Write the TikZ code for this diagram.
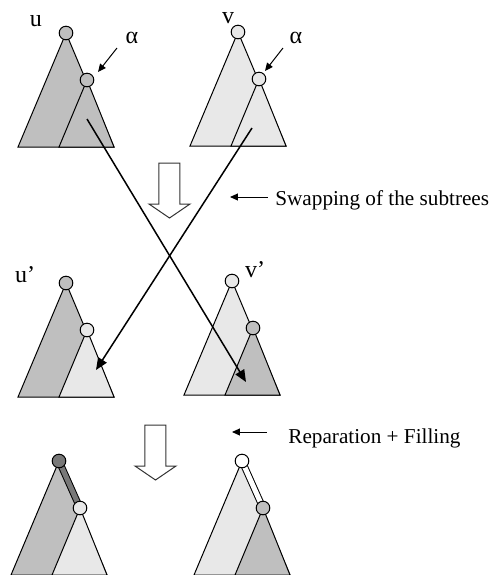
\documentclass[tikz,border=0pt]{standalone}
\usepackage{fontspec}
\setmainfont{Liberation Serif}
\usetikzlibrary{arrows.meta, calc}
\definecolor{darkfill}{gray}{0.75}
\definecolor{lightfill}{gray}{0.91}
\definecolor{bandfill}{gray}{0.47}
\tikzset{
    pin/.style={
        circle, draw=black, line width=0.5pt,
        inner sep=0pt, minimum size=6.8pt
    },
    rootband/.style={},
    pics/treepair/.style n args={4}{code={
        \coordinate (-root) at (0,0);
        \coordinate (-sub)  at (21,47);
        \coordinate (-bl)   at (-48,114);
        \coordinate (-br)   at (48,114);
        \coordinate (-sbl)  at (-7,114);
        \filldraw[fill=#1, line width=0.5pt] (-root) -- (-bl) -- (-br) -- cycle;
        \filldraw[fill=#2, line width=0.5pt] (-sub) -- (-sbl) -- (-br) -- cycle;
        \path[rootband] (-root) -- (-sub);
        \node[pin, fill=#3] (-rootpin) at (-root) {};
        \node[pin, fill=#4] (-subpin)  at (-sub) {};
    }},
    lbl/.style={font=\fontsize{12}{14}\selectfont, inner sep=0pt, anchor=base},
    txt/.style={font=\fontsize{10.6}{12}\selectfont, inner sep=0pt, anchor=base west},
    note/.style={-{Triangle[length=4pt, width=3.5pt]}, line width=0.5pt},
    swap/.style={-{Triangle[length=6pt, width=5pt]}, line width=0.75pt},
    hollow/.style={draw=black!80, line width=0.5pt, fill=white},
}
\begin{document}
\begin{tikzpicture}[x=0.5pt, y=-0.5pt]
\useasboundingbox (0,0) rectangle (491,575);

% ---- before the swap ----
\pic (u) at (66,33)  {treepair={darkfill}{darkfill}{darkfill}{darkfill}};
\pic (v) at (238,32) {treepair={lightfill}{lightfill}{lightfill}{lightfill}};
\node[lbl] (ulabel) at (36,26)  {u};
\node[lbl] (vlabel) at (228,23) {v};
\node[lbl] (ualpha) at (132,43) {α};
\node[lbl] (valpha) at (296,43) {α};
\draw[note] ($(ualpha.base)+(-15,5)$) -- ($(u-sub)+(11,-8)$);
\draw[note] ($(valpha.base)+(-13,5)$) -- ($(v-sub)+(6,-8)$);

% ---- after the swap ----
\pic (u2) at (66,283)  {treepair={darkfill}{lightfill}{darkfill}{lightfill}};
\pic (v2) at (232,281) {treepair={lightfill}{darkfill}{lightfill}{darkfill}};
\node[lbl] (u2label) at (25,282)  {u'};
\node[lbl] (v2label) at (255,277) {v'};

% ---- after reparation ----
\pic[rootband/.style={draw, double=bandfill, double distance=2.5pt, line width=0.5pt}]
    (u3) at (59,461) {treepair={darkfill}{lightfill}{bandfill}{lightfill}};
\pic[rootband/.style={draw, double=white, double distance=2.5pt, line width=0.5pt}]
    (v3) at (242,461) {treepair={lightfill}{darkfill}{white}{darkfill}};

% ---- crossing subtrees ----
\draw[swap] ($(u-sub)+(0,39)$) -- ($(v2-sub)+(-7,54)$);
\draw[swap] ($(v-sub)+(-7,49)$) -- ($(u2-sub)+(9,40)$);

% ---- step arrows ----
\coordinate (swapdown) at (169.5,163);
\coordinate (repairdown) at (155.5,425);
\draw[hollow] ($(swapdown)+(-10.5,0)$) -- ++(0,41) -- ++(-10,0) -- ++(20.5,14)
    -- ++(20.5,-14) -- ++(-10,0) -- ++(0,-41) -- cycle;
\draw[hollow] ($(repairdown)+(-10.5,0)$) -- ++(0,41) -- ++(-10,0) -- ++(20.5,14)
    -- ++(20.5,-14) -- ++(-10,0) -- ++(0,-41) -- cycle;

\node[txt] (swaptext) at (275,205) {Swapping of the subtrees};
\node[txt] (repairtext) at (288,443) {Reparation + Filling};
\draw[note] ($(swaptext.base west)+(-7,-8)$) -- ++(-38,0);
\draw[note] ($(repairtext.base west)+(-21,-11)$) -- ++(-35,0);

\end{tikzpicture}
\end{document}
